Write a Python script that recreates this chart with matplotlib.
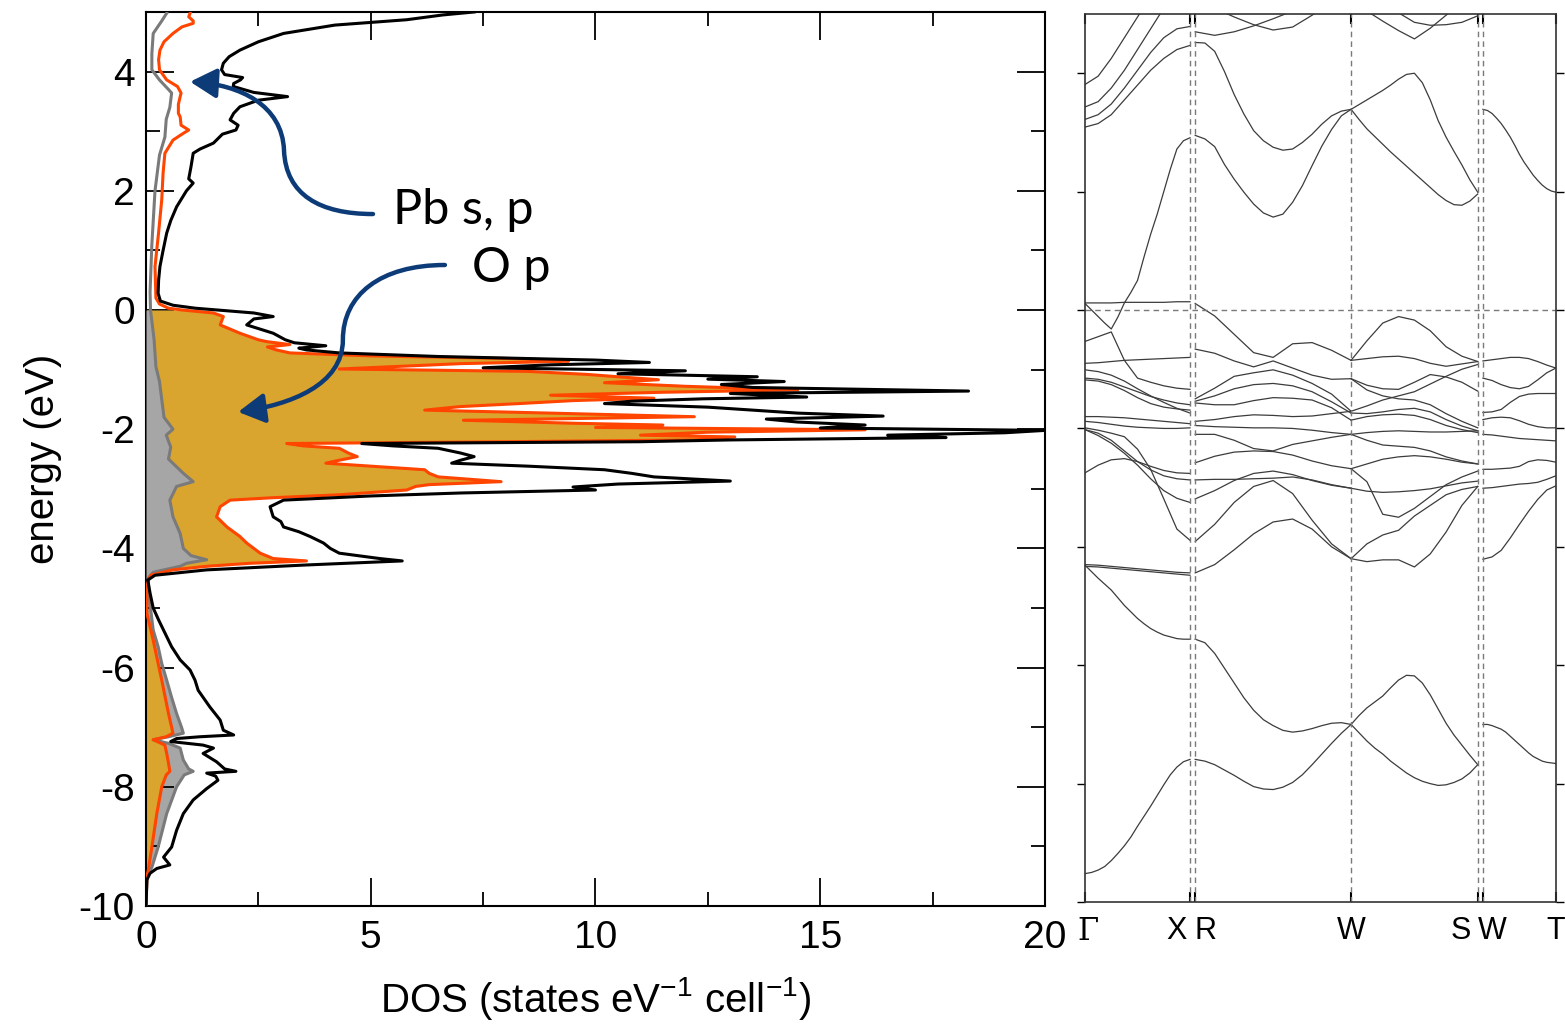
import numpy as np
import matplotlib
matplotlib.use('Agg')
import matplotlib.pyplot as plt
from matplotlib.path import Path
from matplotlib.patches import FancyArrowPatch
from matplotlib.transforms import blended_transform_factory

plt.rcParams['axes.unicode_minus'] = False
plt.rcParams['font.family'] = ['Liberation Sans', 'DejaVu Sans']
plt.rcParams['mathtext.default'] = 'regular'

# ---------------- DOS data (energy in eV, DOS in states/eV/cell) ----------------
e_tot = [5.0, 4.95, 4.87, 4.78, 4.64, 4.5, 4.36, 4.25, 4.14, 4.03, 3.95, 3.9, 3.86, 3.8, 3.75,
         3.65, 3.58, 3.52, 3.41, 3.3, 3.19, 3.1, 3.02, 2.95, 2.8, 2.7, 2.63, 2.4, 2.2, 2.13,
         2.0, 1.73, 1.5, 1.29, 1.0, 0.73, 0.5, 0.28, 0.15, 0.08, 0.03, -0.05, -0.11, -0.15,
         -0.25, -0.39, -0.5, -0.55, -0.6, -0.64, -0.67, -0.72, -0.78, -0.84, -0.88, -0.92,
         -0.97, -1.02, -1.07, -1.12, -1.16, -1.2, -1.25, -1.3, -1.36, -1.4, -1.46, -1.49,
         -1.53, -1.57, -1.63, -1.68, -1.73, -1.78, -1.83, -1.88, -1.93, -1.98, -2.02, -2.06,
         -2.1, -2.14, -2.18, -2.21, -2.24, -2.28, -2.32, -2.4, -2.46, -2.52, -2.57, -2.62,
         -2.68, -2.74, -2.8, -2.87, -2.92, -2.97, -3.02, -3.07, -3.12, -3.19, -3.3, -3.4,
         -3.47, -3.55, -3.64, -3.72, -3.8, -3.91, -4.0, -4.08, -4.17, -4.21, -4.28, -4.36,
         -4.45, -4.53, -4.75, -5.0, -5.2, -5.37, -5.65, -5.87, -6.04, -6.21, -6.38, -6.66,
         -6.88, -7.05, -7.13, -7.16, -7.19, -7.24, -7.3, -7.35, -7.44, -7.58, -7.7, -7.74,
         -7.77, -7.82, -7.89, -8.03, -8.22, -8.45, -8.73, -9.01, -9.18, -9.31, -9.37, -9.45,
         -9.56, -10.0]
dos_tot = [7.3, 6.6, 5.8, 4.2, 3.06, 2.5, 2.09, 1.85, 1.72, 1.68, 1.75, 2.15, 2.1, 1.95, 1.94,
           2.4, 3.15, 2.5, 2.09, 1.95, 1.87, 2.05, 2.0, 1.7, 1.5, 1.2, 1.05, 1.0, 0.95, 1.05,
           0.9, 0.68, 0.55, 0.46, 0.38, 0.31, 0.28, 0.27, 0.32, 0.6, 1.1, 2.4, 2.83, 2.4,
           2.24, 2.83, 3.1, 3.3, 4.0, 3.4, 3.57, 4.3, 6.5, 10.0, 11.2, 9.0,
           7.5, 12.0, 10.5, 13.6, 12.5, 14.2, 12.8, 13.5, 18.3, 13.0, 14.7, 12.4,
           10.8, 10.2, 12.5, 13.5, 14.5, 16.4, 13.8, 14.5, 16.0, 15.0, 20.0, 19.1,
           16.5, 17.8, 13.0, 11.0, 4.8, 5.5, 6.5, 7.0, 7.3, 7.0, 6.8, 8.5,
           10.2, 10.8, 11.3, 13.0, 10.5, 9.5, 10.0, 7.0, 5.0, 3.06, 2.76, 2.8,
           2.83, 3.0, 3.06, 3.4, 3.65, 3.95, 4.1, 4.3, 5.2, 5.7, 3.5, 1.35,
           0.2, 0.04, 0.09, 0.16, 0.28, 0.39, 0.57, 0.76, 0.98, 1.09, 1.16, 1.42,
           1.65, 1.72, 1.95, 1.2, 0.68, 0.55, 1.27, 1.5, 1.27, 1.57, 1.75, 2.0,
           1.35, 1.55, 1.6, 1.35, 1.05, 0.83, 0.68, 0.57, 0.39, 0.53, 0.24, 0.09,
           0.02, 0.0]

e_op = [4.98, 4.92, 4.85, 4.81, 4.75, 4.64, 4.5, 4.36, 4.2, 4.03, 3.86, 3.75, 3.64, 3.58,
        3.45, 3.3, 3.24, 3.1, 3.02, 2.95, 2.85, 2.63, 2.3, 1.85, 1.3, 0.73, 0.2, 0.1, 0.03,
        0.0, -0.05, -0.11, -0.25, -0.39, -0.5, -0.53, -0.58, -0.62, -0.67, -0.72, -0.77,
        -0.82, -0.86, -0.9, -0.95, -0.99, -1.03, -1.08, -1.12, -1.17, -1.22, -1.28, -1.34,
        -1.38, -1.43, -1.48, -1.52, -1.57, -1.62, -1.68, -1.73, -1.79, -1.85, -1.9, -1.93,
        -1.97, -2.01, -2.05, -2.1, -2.13, -2.18, -2.21, -2.24, -2.28, -2.32, -2.4, -2.46,
        -2.52, -2.57, -2.62, -2.68, -2.74, -2.8, -2.88, -2.93, -2.96, -3.02, -3.1, -3.15,
        -3.19, -3.3, -3.47, -3.64, -3.8, -3.91, -4.08, -4.17, -4.21, -4.25, -4.3, -4.36,
        -4.45, -4.6, -5.09, -5.54, -5.93, -6.21, -6.77, -7.1, -7.16, -7.21, -7.3, -7.44,
        -7.6, -7.74, -7.8, -8.0, -8.45, -9.01, -9.4, -9.5, -10.0]
dos_op = [0.98, 0.95, 1.05, 1.05, 0.8, 0.6, 0.4, 0.31, 0.28, 0.3, 0.46, 0.7, 0.78, 0.76,
          0.72, 0.72, 0.76, 0.78, 0.95, 0.8, 0.6, 0.42, 0.38, 0.35, 0.28, 0.2, 0.22, 0.3, 0.5,
          0.8, 1.5, 1.72, 1.65, 2.09, 2.5, 2.68, 3.2, 2.7, 2.9, 3.2, 5.0,
          8.5, 9.4, 7.0, 5.5, 4.3, 8.5, 9.8, 10.5, 11.4, 10.2, 12.0, 14.5,
          11.5, 9.0, 11.3, 9.5, 8.3, 7.0, 6.2, 9.0, 12.2, 7.06, 9.5, 11.5,
          10.0, 16.0, 12.5, 11.0, 13.1, 12.2, 8.0, 3.13, 3.5, 4.3, 4.5, 4.7,
          4.3, 4.0, 5.0, 6.2, 6.3, 6.5, 7.9, 6.3, 6.0, 5.8, 4.3, 2.8,
          1.87, 1.65, 1.57, 1.8, 2.09, 2.24, 2.54, 2.83, 3.57, 2.3, 1.35, 0.6,
          0.1, 0.02, 0.02, 0.16, 0.27, 0.35, 0.5, 0.6, 0.45, 0.16, 0.42, 0.46,
          0.5, 0.53, 0.45, 0.35, 0.24, 0.13, 0.05, 0.02, 0.0]

e_pb = [4.98, 4.85, 4.64, 4.3, 4.03, 3.86, 3.7, 3.64, 3.4, 3.2, 2.9, 2.6, 2.0, 1.1, 0.3,
        0.0, -0.5, -0.95, -1.2, -1.5, -1.8, -2.0, -2.1, -2.3, -2.5, -2.74, -2.88, -2.96,
        -3.19, -3.47, -3.75, -4.0, -4.12, -4.19, -4.25, -4.3, -4.4, -4.5, -4.75, -5.37,
        -5.65, -5.93, -6.21, -6.5, -6.77, -7.0, -7.1, -7.16, -7.21, -7.27, -7.35, -7.55,
        -7.7, -7.74, -7.8, -8.0, -8.45, -9.01, -9.35, -9.5, -10.0]
dos_pb = [0.46, 0.35, 0.16, 0.13, 0.13, 0.3, 0.5, 0.57, 0.53, 0.45, 0.42, 0.3, 0.2, 0.13, 0.09,
          0.1, 0.18, 0.22, 0.3, 0.35, 0.4, 0.6, 0.45, 0.55, 0.5, 0.83, 1.05, 0.68,
          0.53, 0.6, 0.76, 0.83, 1.0, 1.35, 0.9, 0.76, 0.16, 0.05, 0.06, 0.16,
          0.27, 0.35, 0.46, 0.57, 0.68, 0.79, 0.83, 0.5, 0.16, 0.5, 0.76, 0.83,
          0.95, 1.05, 0.85, 0.68, 0.46, 0.27, 0.13, 0.02, 0.0]

# ---------------- band structure data ----------------
kpath = [0.0, 0.223, 0.234, 0.565, 0.834, 0.845, 1.0]   # G, X, R, W, S, W, T
klabels = ['\u0393', 'X', 'R', 'W', 'S', 'W', 'T']

# Gamma -> X (energies at evenly spaced k along the segment)
bands_gx = [
    [0.12, 0.12, 0.12, 0.13, 0.13, 0.13, 0.13, 0.14, 0.14],
    [0.11, 0.0, -0.11, -0.22, -0.32, -0.12, 0.12, 0.30, 0.50, 0.90, 1.28, 1.62, 2.00, 2.38,
     2.72, 2.86, 2.91],
    [-0.53, -0.45, -0.37, -0.85, -1.15, -1.22, -1.28, -1.32, -1.34],
    [-0.90, -0.89, -0.87, -0.85, -0.84, -0.83, -0.82, -0.81, -0.80],
    [-1.01, -1.04, -1.10, -1.20, -1.33, -1.45, -1.56, -1.66, -1.74],
    [-1.15, -1.17, -1.22, -1.30, -1.38, -1.46, -1.52, -1.57, -1.60],
    [-1.18, -1.20, -1.26, -1.36, -1.48, -1.58, -1.64, -1.67, -1.69],
    [-1.80, -1.80, -1.81, -1.82, -1.84, -1.86, -1.88, -1.90, -1.92],
    [-1.88, -1.90, -1.93, -1.96, -1.98, -1.99, -2.00, -2.00, -1.99],
    [-1.99, -2.03, -2.08, -2.14, -2.35, -2.69, -3.19, -3.70, -3.89],
    [-2.02, -2.12, -2.25, -2.42, -2.62, -2.85, -3.05, -3.18, -3.25],
    [-2.02, -2.08, -2.20, -2.38, -2.56, -2.70, -2.80, -2.85, -2.87],
    [-2.75, -2.62, -2.53, -2.51, -2.56, -2.64, -2.71, -2.75, -2.76],
    [-4.30, -4.31, -4.33, -4.35, -4.37, -4.39, -4.41, -4.43, -4.44],
    [-4.33, -4.34, -4.36, -4.38, -4.40, -4.42, -4.44, -4.46, -4.48],
    [-4.31, -4.42, -4.53, -4.63, -4.73, -4.86, -4.99, -5.10, -5.21, -5.30, -5.38, -5.44,
     -5.49, -5.52, -5.55, -5.56, -5.56],
    [-9.52, -9.50, -9.46, -9.40, -9.30, -9.18, -9.05, -8.90, -8.72, -8.55, -8.38, -8.20,
     -8.02, -7.85, -7.72, -7.63, -7.59],
    [3.09, 3.15, 3.30, 3.55, 3.80, 4.05, 4.25, 4.40, 4.47],
    [3.22, 3.30, 3.48, 3.75, 4.05, 4.35, 4.60, 4.75, 4.79],
    [3.43, 3.52, 3.75, 4.05, 4.40, 4.75, 5.10, 5.40, 5.60],
    [3.81, 3.95, 4.25, 4.60, 4.95, 5.30, 5.60, 5.80, 5.90],
]

# R -> W
bands_rw = [
    [0.11, -0.10, -0.41, -0.72, -0.80, -0.57, -0.55, -0.68, -0.85],
    [-0.66, -0.73, -0.86, -0.96, -0.86, -0.98, -1.10, -1.17, -1.16],
    [-1.50, -1.32, -1.12, -1.06, -1.01, -1.10, -1.24, -1.42, -1.71],
    [-1.54, -1.45, -1.33, -1.26, -1.24, -1.28, -1.38, -1.55, -1.74],
    [-1.57, -1.60, -1.60, -1.53, -1.48, -1.49, -1.52, -1.65, -1.86],
    [-1.88, -1.85, -1.80, -1.77, -1.78, -1.80, -1.79, -1.75, -1.71],
    [-1.95, -1.97, -1.98, -1.99, -1.99, -2.00, -2.03, -2.07, -2.10],
    [-2.10, -2.10, -2.20, -2.34, -2.38, -2.27, -2.21, -2.15, -2.10],
    [-2.58, -2.47, -2.40, -2.38, -2.39, -2.45, -2.55, -2.63, -2.68],
    [-2.87, -2.86, -2.86, -2.85, -2.84, -2.82, -2.87, -2.95, -3.01],
    [-3.19, -3.05, -2.88, -2.76, -2.72, -2.78, -2.88, -2.96, -3.01],
    [-3.91, -3.62, -3.25, -2.98, -2.88, -3.10, -3.55, -3.95, -4.20],
    [-4.44, -4.30, -4.05, -3.78, -3.58, -3.53, -3.70, -4.00, -4.20],
    [-5.56, -5.62, -5.80, -6.05, -6.30, -6.55, -6.76, -6.92, -7.02, -7.10, -7.13, -7.11,
     -7.07, -7.02, -6.98, -6.97, -7.00],
    [-7.59, -7.62, -7.68, -7.77, -7.86, -7.96, -8.05, -8.09, -8.10, -8.06, -7.98, -7.85,
     -7.68, -7.50, -7.32, -7.15, -7.00],
    [2.95, 2.89, 2.76, 2.46, 2.21, 1.99, 1.79, 1.64, 1.57, 1.62, 1.82, 2.10, 2.44, 2.77,
     3.05, 3.28, 3.39],
    [4.52, 4.51, 4.37, 4.03, 3.64, 3.31, 3.03, 2.86, 2.75, 2.70, 2.72, 2.83, 2.97, 3.14,
     3.28, 3.36, 3.39],
    [4.70, 4.64, 4.70, 4.80, 4.92, 5.05, 5.15, 5.20, 5.20],
    [5.30, 5.10, 4.95, 4.82, 4.73, 4.78, 4.98, 5.20, 5.30],
]

# W -> S
bands_ws = [
    [-0.85, -0.52, -0.22, -0.11, -0.17, -0.35, -0.62, -0.78, -0.87],
    [-0.85, -0.82, -0.79, -0.78, -0.82, -0.90, -0.95, -0.91, -0.87],
    [-1.16, -1.27, -1.33, -1.34, -1.22, -1.09, -1.13, -1.22, -1.37],
    [-1.16, -1.35, -1.45, -1.50, -1.52, -1.60, -1.75, -1.88, -1.99],
    [-1.71, -1.62, -1.52, -1.45, -1.38, -1.25, -1.12, -1.00, -0.92],
    [-1.74, -1.75, -1.72, -1.68, -1.66, -1.72, -1.85, -1.96, -2.04],
    [-1.86, -1.80, -1.77, -1.76, -1.78, -1.85, -1.95, -2.02, -2.07],
    [-2.10, -2.07, -2.05, -2.04, -2.05, -2.06, -2.06, -2.05, -2.04],
    [-2.10, -2.20, -2.28, -2.30, -2.32, -2.38, -2.48, -2.55, -2.60],
    [-2.68, -2.60, -2.52, -2.48, -2.46, -2.48, -2.52, -2.57, -2.60],
    [-2.68, -2.90, -3.45, -3.50, -3.35, -3.15, -2.95, -2.82, -2.72],
    [-3.01, -3.06, -3.08, -3.07, -3.05, -3.02, -2.97, -2.92, -2.89],
    [-4.20, -3.95, -3.80, -3.72, -3.48, -3.30, -3.12, -3.03, -2.98],
    [-4.20, -4.25, -4.22, -4.22, -4.34, -4.12, -3.75, -3.30, -2.98],
    [-7.00, -6.85, -6.72, -6.62, -6.52, -6.38, -6.25, -6.17, -6.18, -6.30, -6.50, -6.74,
     -6.98, -7.18, -7.35, -7.52, -7.68],
    [-7.00, -7.14, -7.28, -7.40, -7.50, -7.62, -7.72, -7.82, -7.90, -7.96, -8.00, -8.03,
     -8.02, -7.98, -7.92, -7.82, -7.68],
    [3.39, 3.47, 3.55, 3.63, 3.71, 3.80, 3.90, 3.98, 4.00, 3.84, 3.55, 3.20, 2.92, 2.68,
     2.45, 2.20, 1.99],
    [3.39, 3.22, 3.06, 2.93, 2.80, 2.67, 2.55, 2.43, 2.31, 2.19, 2.07, 1.95, 1.85, 1.78,
     1.77, 1.84, 1.96],
    [5.40, 5.05, 4.88, 4.72, 4.58, 4.76, 4.98, 5.20, 5.40],
    [5.60, 5.40, 5.20, 5.02, 4.86, 4.81, 4.82, 4.86, 4.97],
]

# W -> T
bands_wt = [
    [-0.86, -0.84, -0.82, -0.80, -0.80, -0.82, -0.87, -0.93, -0.98],
    [-1.15, -1.19, -1.26, -1.31, -1.33, -1.29, -1.18, -1.06, -0.98],
    [-1.73, -1.72, -1.68, -1.56, -1.46, -1.42, -1.41, -1.41, -1.41],
    [-1.85, -1.82, -1.81, -1.82, -1.87, -1.93, -1.97, -1.99, -1.99],
    [-2.10, -2.11, -2.13, -2.15, -2.17, -2.18, -2.19, -2.20, -2.21],
    [-2.69, -2.69, -2.68, -2.67, -2.64, -2.56, -2.53, -2.54, -2.57],
    [-3.01, -3.00, -2.98, -2.96, -2.94, -2.93, -2.91, -2.86, -2.80],
    [-4.21, -4.17, -4.06, -3.85, -3.62, -3.40, -3.20, -3.04, -2.97],
    [-7.00, -7.00, -7.02, -7.05, -7.08, -7.13, -7.20, -7.27, -7.34, -7.41, -7.48, -7.54,
     -7.58, -7.62, -7.64, -7.65, -7.66],
    [3.39, 3.37, 3.32, 3.24, 3.15, 3.04, 2.92, 2.78, 2.63, 2.50, 2.39, 2.28, 2.19, 2.11,
     2.05, 2.01, 1.99],
]

segments = [(kpath[0], kpath[1], bands_gx), (kpath[2], kpath[3], bands_rw),
            (kpath[3], kpath[4], bands_ws), (kpath[5], kpath[6], bands_wt)]

# ---------------- figure ----------------
fig = plt.figure(figsize=(15.65, 10.24), dpi=100)
ax1 = fig.add_axes([0.0933, 0.1152, 0.5744, 0.8731])
ax2 = fig.add_axes([0.6933, 0.1191, 0.3009, 0.8672])

e_tot = np.array(e_tot); dos_tot = np.array(dos_tot)
e_op = np.array(e_op); dos_op = np.array(dos_op)
e_pb = np.array(e_pb); dos_pb = np.array(dos_pb)

gold = '#daa52e'
grey_fill = '#a6a6a6'
ax1.fill_betweenx(e_pb, 0, dos_pb, where=e_pb <= -4.5, color=grey_fill, lw=0, zorder=1)
ax1.fill_betweenx(e_op, 0, dos_op, where=e_op <= 0, color=gold, lw=0, zorder=2)
ax1.fill_betweenx(e_pb, 0, dos_pb, where=(e_pb <= 0) & (e_pb >= -4.5), color=grey_fill, lw=0, zorder=3)
ax1.plot(dos_pb, e_pb, color='#7a7a7a', lw=2.2, zorder=4)
ax1.plot(dos_op, e_op, color='#ff4500', lw=2.2, zorder=5)
ax1.plot(dos_tot, e_tot, color='black', lw=2.2, zorder=6)

ax1.set_xlim(0, 20)
ax1.set_ylim(-10, 5)
ax1.set_xticks(np.arange(0, 21, 5))
ax1.set_xticks(np.arange(0, 20.1, 2.5), minor=True)
ax1.set_yticks(np.arange(-10, 5, 2))
ax1.set_yticks(np.arange(-10, 5.1, 1), minor=True)
ax1.tick_params(which='both', direction='in', top=True, right=True, width=1.3, labelsize=28)
ax1.tick_params(which='major', length=20)
ax1.tick_params(which='minor', length=10)
ax1.tick_params(axis='y', pad=8)
ax1.tick_params(axis='x', pad=10)
for s in ax1.spines.values():
    s.set_linewidth(1.5)
ax1.set_ylabel('energy (eV)', fontsize=29, labelpad=12)
ax1.set_xlabel('DOS (states eV$^{-1}$ cell$^{-1}$)', fontsize=29, labelpad=14)

# annotations
arrow_col = '#0d3b78'
codes = [Path.MOVETO, Path.CURVE4, Path.CURVE4, Path.CURVE4, Path.CURVE4, Path.CURVE4, Path.CURVE4]
pb_path = [(5.05, 1.61), (3.87, 1.61), (3.11, 1.93), (3.07, 2.68), (3.03, 3.44), (2.09, 3.78), (0.98, 3.83)]
op_path = [(6.65, 0.755), (5.21, 0.755), (4.38, 0.25), (4.38, -0.50), (4.38, -1.26), (3.2, -1.59), (2.05, -1.71)]
for verts in (pb_path, op_path):
    arr = FancyArrowPatch(path=Path(verts, codes), arrowstyle='-|>,head_length=0.8,head_width=0.45',
                          mutation_scale=20, color=arrow_col, lw=3.2, zorder=8)
    ax1.add_patch(arr)
ax1.text(5.5, 1.68, 'Pb s, p', fontsize=35, family=['Lato', 'DejaVu Sans'], va='center', ha='left', zorder=9)
ax1.text(7.25, 0.70, 'O p', fontsize=35, family=['Lato', 'DejaVu Sans'], va='center', ha='left', zorder=9)

# band structure
for k0, k1, bands in segments:
    for b in bands:
        ks = np.linspace(k0, k1, len(b))
        ax2.plot(ks, b, color='#3c3c3c', lw=0.9)
for k in kpath[1:-1]:
    ax2.axvline(k, color='#7a7a7a', lw=1.0, ls=(0, (4, 3)))
ax2.axhline(0, color='#7a7a7a', lw=1.0, ls=(0, (4, 3)))
ax2.set_xlim(kpath[0], kpath[-1])
ax2.set_ylim(-10, 5)
ax2.set_yticks(np.arange(-10, 5, 2))
ax2.set_xticks(kpath)
ax2.tick_params(axis='y', direction='out', left=True, right=True, length=6, width=1.0,
                labelleft=False)
ax2.tick_params(axis='x', direction='in', top=True, bottom=True, length=7, width=1.5,
                labelbottom=False)
for s in ax2.spines.values():
    s.set_linewidth(1.2)
    s.set_color('#333333')

trans = blended_transform_factory(ax2.transData, ax2.transAxes)
offsets = [2, -9.5, 7.5, 0, -12, 6.5, 0]
for k, lab, dx in zip(kpath, klabels, offsets):
    fam = ['DejaVu Serif'] if lab == '\u0393' else ['Liberation Sans', 'DejaVu Sans']
    ax2.annotate(lab, xy=(k, 0), xycoords=trans, xytext=(dx, -21), textcoords='offset points',
                 ha='center', va='center', fontsize=22, family=fam, annotation_clip=False)

fig.savefig('out.png', dpi=100)
